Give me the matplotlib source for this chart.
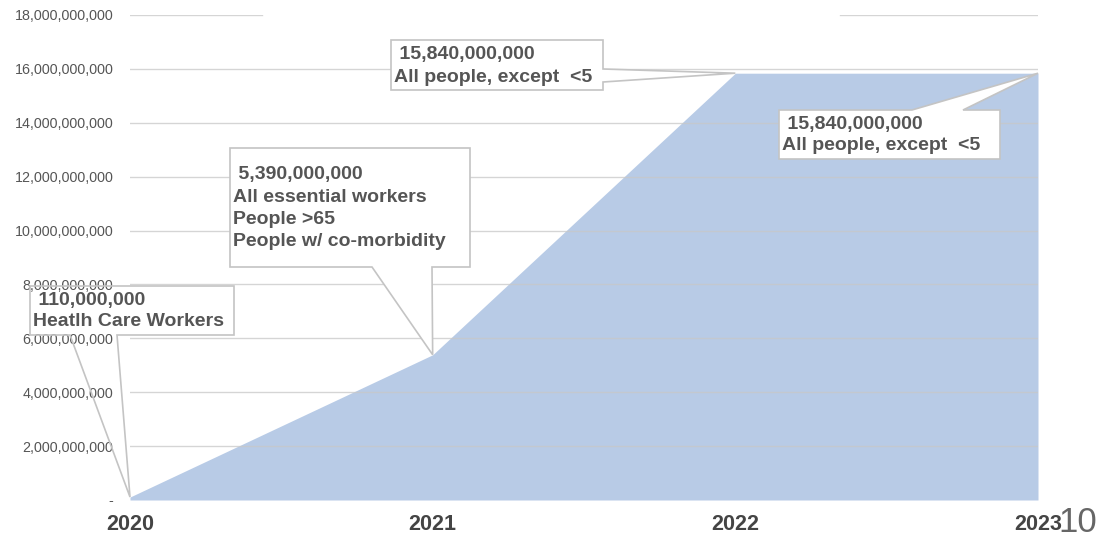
import matplotlib
matplotlib.use("Agg")
import matplotlib.pyplot as plt
from matplotlib.patches import Polygon

# ---- data ----
years = [2020, 2021, 2022, 2023]
doses = [110_000_000, 5_390_000_000, 15_840_000_000, 15_840_000_000]
year_labels = ["2020", "2021", "2022", "2023"]
y_ticks = [0, 2e9, 4e9, 6e9, 8e9, 10e9, 12e9, 14e9, 16e9, 18e9]
y_tick_labels = ["-", "2,000,000,000", "4,000,000,000", "6,000,000,000",
                 "8,000,000,000", "10,000,000,000", "12,000,000,000",
                 "14,000,000,000", "16,000,000,000", "18,000,000,000"]
ann_texts = [
    [" 110,000,000", "Heatlh Care Workers"],
    [" 5,390,000,000", "All essential workers", "People >65", "People w/ co-morbidity"],
    [" 15,840,000,000", "All people, except  <5"],
    [" 15,840,000,000", "All people, except  <5"],
]

plt.rcParams['font.family'] = ['Liberation Sans', 'DejaVu Sans']

W, H = 1101, 538
fig = plt.figure(figsize=(W / 100, H / 100), dpi=100)
ax = fig.add_axes([130 / W, (H - 500) / H, (1038 - 130) / W, (500 - 15) / H])

fill_color = "#b8cbe6"
ax.fill_between(years, 0, doses, color=fill_color, lw=0, zorder=1)
ax.set_xlim(years[0], years[-1])
ax.set_ylim(0, 18e9)
ax.set_yticks(y_ticks)
ax.set_yticklabels(y_tick_labels, fontsize=10.3, color="#555555")
ax.set_xticks(years)
ax.set_xticklabels(year_labels, fontsize=15.5, fontweight="bold", color="#444444")
ax.tick_params(axis="y", length=0, pad=12)
ax.tick_params(axis="x", length=0, pad=10)
for s in ax.spines.values():
    s.set_visible(False)

grid_kw = dict(color="#c8c8c8", lw=1, alpha=0.75, zorder=2)
for yv in y_ticks[1:-1]:
    ax.axhline(yv, **grid_kw)
# top gridline is broken in the reference
ax.axhline(y_ticks[-1], xmin=0, xmax=0.145, **grid_kw)
ax.axhline(y_ticks[-1], xmin=0.782, xmax=1.0, **grid_kw)

fig.canvas.draw()


def disp(px, py):
    """pixel coords (top origin) -> display coords"""
    return (px, H - py)


def callout(box, wedge, target_idx, lines, line_y, text_x, face="white"):
    x0, y0, x1, y1 = box
    tx, ty = ax.transData.transform((years[target_idx], doses[target_idx]))
    side, a, b = wedge
    if side == "bottom":
        pts = [disp(x0, y0), disp(x1, y0), disp(x1, y1), disp(b, y1),
               (tx, ty), disp(a, y1), disp(x0, y1)]
    elif side == "right":
        pts = [disp(x0, y0), disp(x1, y0), disp(x1, a), (tx, ty),
               disp(x1, b), disp(x1, y1), disp(x0, y1)]
    else:  # top
        pts = [disp(x0, y0), disp(a, y0), (tx, ty), disp(b, y0),
               disp(x1, y0), disp(x1, y1), disp(x0, y1)]
    poly = Polygon(pts, closed=True, transform=None, facecolor=face,
                   edgecolor="#c4c4c4", lw=1.2, zorder=5, clip_on=False)
    fig.add_artist(poly)
    for ln, ly in zip(lines, line_y):
        fig.text(text_x / W, (H - ly) / H, ln, fontsize=14, fontweight="bold",
                 color="#555555", ha="left", va="center", zorder=6)


callout((30, 286, 234, 335), ("bottom", 70, 117), 0, ann_texts[0], [300, 322], 33, face="none")
callout((230, 148, 470, 267), ("bottom", 372, 432), 1, ann_texts[1], [175, 197, 219, 241], 233)
callout((391, 40, 603, 90), ("right", 69, 82), 2, ann_texts[2], [55, 78], 394)
callout((779, 110, 1000, 159), ("top", 912, 963), 3, ann_texts[3], [124, 146], 782)

fig.text(1078 / W, (H - 522) / H, "10", fontsize=25, color="#666666",
         ha="center", va="center", family=["Liberation Sans Narrow", "Liberation Sans"])

fig.savefig("out.png", dpi=100)
